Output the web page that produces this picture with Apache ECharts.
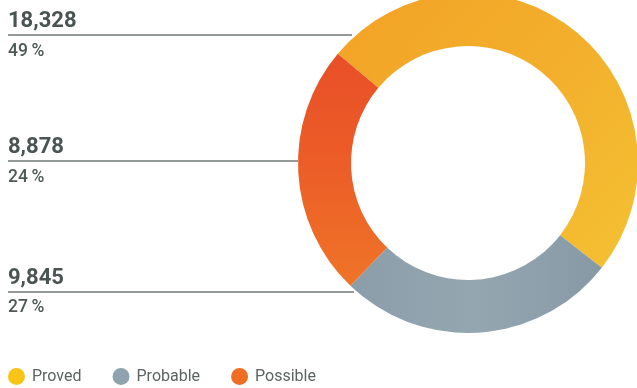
<!DOCTYPE html>
<html><head><meta charset="utf-8">
<script src="https://cdn.jsdelivr.net/npm/echarts@6/dist/echarts.min.js"></script>
<style>html,body{margin:0;padding:0;background:#fff}#c{width:637px;height:388px}</style>
</head><body><div id="c"></div>
<script>
const categories = ['Proved', 'Probable', 'Possible'];
const values = [18328, 9845, 8878];
const valueLabels = ['18,328', '9,845', '8,878'];
const percentLabels = ['49\u2009%', '27\u2009%', '24\u2009%'];
const legendColors = ['#F7C417', '#8FA3AE', '#EF6E24'];

const fills = [
  {type:'linear',x:0,y:0,x2:1,y2:1,colorStops:[{offset:0,color:'#F2A225'},{offset:0.55,color:'#F3B02C'},{offset:1,color:'#F4C133'}]},
  {type:'linear',x:0,y:0,x2:1,y2:0,colorStops:[{offset:0,color:'#8A9DA9'},{offset:0.5,color:'#94A7B1'},{offset:1,color:'#8699A5'}]},
  {type:'linear',x:0,y:0,x2:0,y2:1,colorStops:[{offset:0,color:'#E94F28'},{offset:0.5,color:'#EC5E27'},{offset:1,color:'#EF7427'}]}
];

const chart = echarts.init(document.getElementById('c'), null, {renderer:'canvas'});
const font = 'Roboto, "Noto Sans", sans-serif';
const rows = [
  {i:0, vb:28, ly:35, pb:57, lx:352},
  {i:2, vb:154, ly:161, pb:183, lx:298},
  {i:1, vb:285, ly:292, pb:313, lx:354}
];
const graphics = [];
rows.forEach(r => {
  graphics.push({type:'text', x:8, y:r.vb - 0.29*22, style:{text:valueLabels[r.i], font:'bold 22px '+font, fill:'#4A5452', verticalAlign:'middle'}});
  graphics.push({type:'line', shape:{x1:8, y1:r.ly, x2:r.lx, y2:r.ly}, style:{stroke:'#6F7876', lineWidth:1.3}, z:-1});
  graphics.push({type:'text', x:8, y:r.pb - 0.29*17.5, style:{text:percentLabels[r.i], font:'500 17.5px '+font, fill:'#4F5957', verticalAlign:'middle'}});
});

chart.setOption({
  animation:false,
  legend:{
    left:8, top:368, padding:0, icon:'circle', itemWidth:17, itemHeight:17, itemGap:31,
    textStyle:{fontFamily:font, fontSize:16, color:'#5B6462', padding:[0,0,0,2]},
    data: categories.map((c,k)=>({name:c, itemStyle:{color:legendColors[k]}}))
  },
  graphic: graphics,
  series:[{
    type:'pie', center:[468,163], radius:[117,170], startAngle:140, clockwise:true,
    label:{show:false}, labelLine:{show:false}, silent:true,
    data: categories.map((c,k)=>({name:c, value:values[k], itemStyle:{color:fills[k]}}))
  }]
});
</script></body></html>
